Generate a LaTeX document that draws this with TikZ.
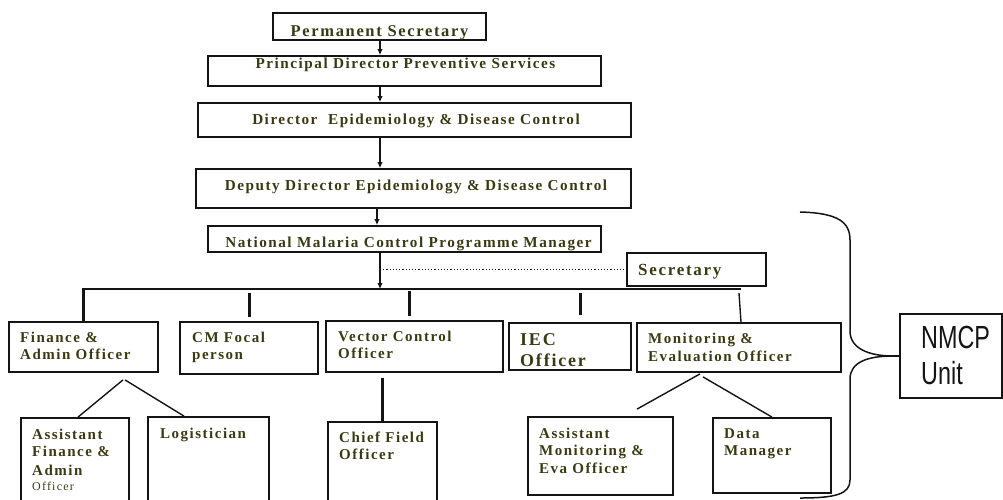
\documentclass[tikz,border=0pt]{standalone}
\usepackage{fontspec}
\setmainfont{Liberation Serif}
\newfontfamily\orgfont[LetterSpace=10]{Liberation Serif}
\newfontfamily\unitfont[FakeStretch=0.73]{Liberation Sans}
\usetikzlibrary{arrows.meta,calc,fit}
\definecolor{orgtext}{RGB}{58,58,18}
\definecolor{orgline}{RGB}{20,20,20}

\tikzset{
  box/.style={draw=orgline, line width=1.8pt, inner sep=0pt, fit={#1}},
  toplbl/.style={anchor=base, inner sep=0pt, text=orgtext,
    font=\orgfont\bfseries\fontsize{15.2}{17}\selectfont},
  lbl/.style={anchor=base west, inner sep=0pt, text=orgtext,
    font=\orgfont\bfseries\fontsize{15}{17}\selectfont},
  down/.style={line width=2pt, draw=orgline, -{Latex[length=6pt,width=5.5pt]}},
  stub/.style={line width=3pt, draw=orgline},
  bus/.style={line width=2.2pt, draw=orgline},
  thin/.style={line width=1.4pt, draw=orgline},
  brace/.style={line width=1.5pt, draw=orgline},
}

\begin{document}
\begin{tikzpicture}[x=1pt,y=-1pt]
\useasboundingbox (0,0) rectangle (1003,499);
\clip (0,0) rectangle (1003,499);

% ---- chain of command ----
\node[box={(273,13) (486,40)}] (ps) {};
\node[box={(208,56) (601,86)}] (pd) {};
\node[box={(198,103) (631,137)}] (dir) {};
\node[box={(196,169) (631,208)}] (dep) {};
\node[box={(208,226) (601,252)}] (mgr) {};
\node[box={(627,253) (766,286)}] (sec) {};

\node[toplbl, font=\orgfont\bfseries\fontsize{16.5}{17}\selectfont] (psT) at (379.5,36) {Permanent Secretary};
\node[toplbl] (pdT) at (405.5,68) {Principal Director Preventive Services};
\node[toplbl] (dirT) at (416,124) {Director~~Epidemiology \& Disease Control};
\node[toplbl] (depT) at (416,190) {Deputy Director Epidemiology \& Disease Control};
\node[toplbl] (mgrT) at (408.5,247) {National Malaria Control Programme Manager};
\node[lbl, font=\orgfont\bfseries\fontsize{17}{17}\selectfont] (secT) at (638,275) {Secretary};

% ---- programme officers ----
\node[box={(9,322) (158,372)}] (fin) {};
\node[box={(180,322) (318,374)}] (cm) {};
\node[box={(326,321) (503,372)}] (vec) {};
\node[box={(509,323) (631,370)}] (iec) {};
\node[box={(637,323) (841,372)}] (me) {};

\node[lbl] (finT) at (20,342) {\vtop{\hbox{Finance \&}\hbox{Admin Officer}}};
\node[lbl] (cmT) at (192,342) {\vtop{\hbox{CM Focal}\hbox{person}}};
\node[lbl] (vecT) at (338,341) {\vtop{\hbox{Vector Control}\hbox{Officer}}};
\node[lbl, font=\orgfont\bfseries\fontsize{18}{21}\selectfont] (iecT) at (520,345) {\vtop{\hbox{IEC}\hbox{Officer}}};
\node[lbl, font=\orgfont\bfseries\fontsize{15}{18}\selectfont] (meT) at (648,343) {\vtop{\hbox{Monitoring \&}\hbox{Evaluation Officer}}};

% ---- support staff ----
\node[box={(21,418) (129,506)}] (afin) {};
\node[box={(148,417) (269,506)}] (log) {};
\node[box={(328,422) (437,506)}] (chief) {};
\node[box={(528,417) (673,495)}] (ame) {};
\node[box={(713,418) (831,493)}] (dm) {};

\node[lbl] (afinT) at (32,439) {\vtop{\hbox{Assistant}\hbox{Finance \&}\vskip2pt\hbox{Admin}\vskip-2pt
  \hbox{\mdseries\fontsize{12}{13}\selectfont Officer}}};
\node[lbl] (logT) at (160,438) {Logistician};
\node[lbl] (chiefT) at (339,442) {\vtop{\hbox{Chief Field}\hbox{Officer}}};
\node[lbl] (ameT) at (539,438) {\vtop{\hbox{Assistant}\hbox{Monitoring \&}\vskip1pt\hbox{Eva Officer}}};
\node[lbl] (dmT) at (724,438) {\vtop{\hbox{Data}\hbox{Manager}}};

% ---- unit label ----
\node[box={(900,314) (1002,398)}, line width=1.6pt] (unit) {};
\node[anchor=base west, inner sep=0pt, text=orgline,
  font=\unitfont\fontsize{32}{36}\selectfont] (unitT) at (921,348) {\vtop{\hbox{NMCP}\hbox{Unit}}};

% ---- connectors ----
\coordinate (spine) at (380,0);
\coordinate (busL) at (83,289);
\coordinate (busR) at (741,289);

\draw[down] (ps.south -| spine) -- (pd.north -| spine);
\draw[down] (pd.south -| spine) -- (dir.north -| spine);
\draw[down] (dir.south -| spine) -- (dep.north -| spine);
\draw[down] ($(dep.south -| spine)+(-3,0)$) -- ($(mgr.north -| spine)+(-3,0)$);
\draw[down] (mgr.south -| spine) -- (busL -| spine);
\draw[line width=1.2pt, dotted, draw=orgline] (spine |- sec.west) -- (sec.west);

\draw[bus] (fin.north) -- (fin.north |- busL) -- (busR);
\draw[stub] ($(cm.north)+(0,-28)$) -- ($(cm.north)+(0,-4)$);
\draw[stub] ($(vec.north)+(-5.5,-29)$) -- ($(vec.north)+(-5.5,-4)$);
\draw[stub] ($(iec.north)+(10,-29)$) -- ($(iec.north)+(10,-7)$);
\draw[thin] ($(me.north)+(0,-29)$) -- ($(me.north)+(2,0)$);

\draw[thin] ($(fin.south)+(39.5,7)$) -- ($(afin.north)+(3,0)$);
\draw[thin] ($(fin.south)+(41.5,7)$) -- ($(log.north)+(-24.5,0)$);
\draw[line width=2.4pt, draw=orgline] ($(chief.north |- vec.south)+(0,5)$) -- (chief.north);
\draw[thin] ($(me.south)+(-39,1)$) -- ($(ame.north)+(36.5,-7)$);
\draw[thin] ($(me.south)+(-36,4)$) -- (dm.north);

% ---- curly bracket round the unit ----
\coordinate (brTop) at (800,212);
\coordinate (brBot) at (800,498);
\coordinate (brTip) at (893,356);
\draw[brace] (brTop) .. controls (838,213) and (850,222) .. (850,240)
  -- (850,331) .. controls (850,348) and (868,356) .. (brTip)
  .. controls (868,356) and (850,362) .. (850,379)
  -- (850,480) .. controls (850,494) and (836,498) .. (brBot);
\draw[line width=2.4pt, draw=orgline] (brTip) -- (unit.west);
\end{tikzpicture}
\end{document}
